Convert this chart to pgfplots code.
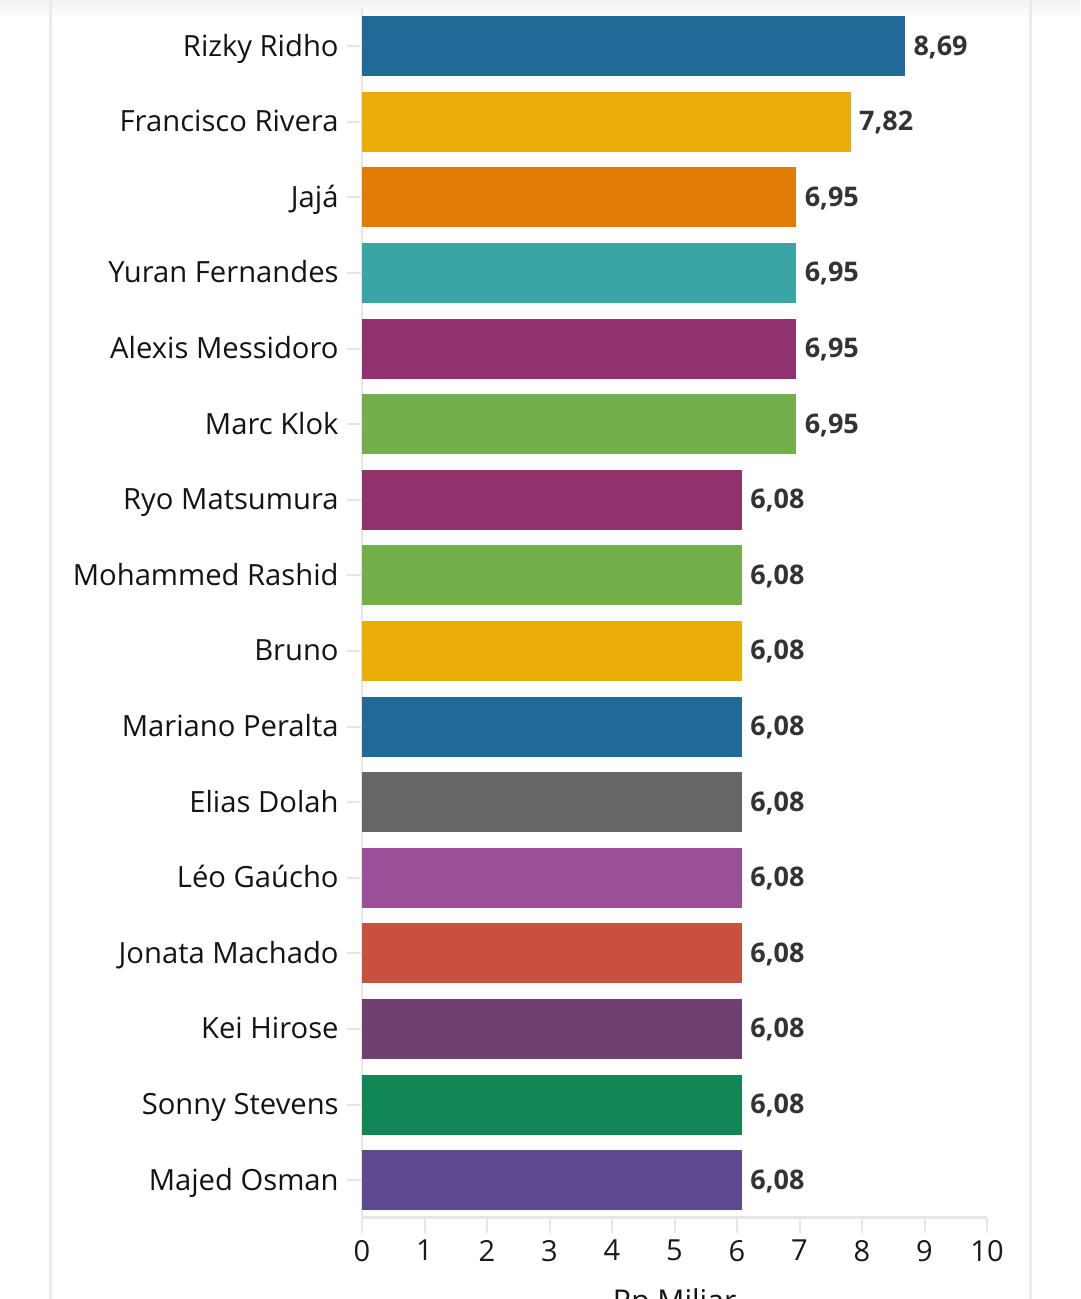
\documentclass[border=0pt]{standalone}
\usepackage{pgfplots}
\pgfplotsset{compat=1.18}
\usepackage{fontspec}
\setmainfont{Open Sans}
\definecolor{cBlue}{HTML}{1F6A96}
\definecolor{cGold}{HTML}{EBAE08}
\definecolor{cOrange}{HTML}{E07B05}
\definecolor{cTeal}{HTML}{39A6A5}
\definecolor{cMagenta}{HTML}{91316D}
\definecolor{cGreen}{HTML}{73AF4A}
\definecolor{cGrey}{HTML}{666666}
\definecolor{cLilac}{HTML}{9A4F96}
\definecolor{cRed}{HTML}{C94F3E}
\definecolor{cPlum}{HTML}{6E3F6F}
\definecolor{cEmerald}{HTML}{108654}
\definecolor{cIndigo}{HTML}{5E4A8F}
\definecolor{axisgrey}{HTML}{E6E6E6}
\definecolor{framegrey}{HTML}{EBEBEB}
\definecolor{valgrey}{HTML}{333333}
\begin{document}
\begin{tikzpicture}
\path[use as bounding box] (0pt,0pt) rectangle (540pt,649.5pt);
\clip (0pt,0pt) rectangle (540pt,649.5pt);
\fill[white] (0pt,0pt) rectangle (540pt,649.5pt);
\shade[top color=black!5, bottom color=white] (0pt,640pt) rectangle (540pt,649.5pt);
\draw[line width=1.5pt, framegrey] (25pt,0pt) -- (25pt,649.5pt);
\draw[line width=1.5pt, framegrey] (515pt,0pt) -- (515pt,649.5pt);
\begin{axis}[
  at={(181pt,40.5pt)}, anchor=south west,
  scale only axis, width=312.5pt, height=604.8pt,
  xmin=0, xmax=10, ymin=-0.5, ymax=15.5,
  xbar, bar width=0.794, bar shift=0pt,
  axis lines*=left,
  x axis line style={draw=axisgrey, line width=1.5pt},
  y axis line style={draw=axisgrey, line width=1pt},
  tick align=outside, major tick length=7.5pt,
  tick style={draw=axisgrey, line width=1pt},
  xtick={0,1,...,10},
  ytick={0,1,...,15},
  yticklabels={Majed Osman,Sonny Stevens,Kei Hirose,Jonata Machado,Léo Gaúcho,Elias Dolah,Mariano Peralta,Bruno,Mohammed Rashid,Ryo Matsumura,Marc Klok,Alexis Messidoro,Yuran Fernandes,Jajá,Francisco Rivera,Rizky Ridho},
  /pgf/number format/assume math mode=true,
  xticklabel style={font=\fontsize{14.5}{16}\selectfont, text=black!90},
  yticklabel style={font=\fontsize{14.6}{18}\selectfont, text=black!92, inner sep=4pt, anchor=base east, yshift=-5pt},
  point meta=x,
  nodes near coords={\pgfmathprintnumber[fixed,fixed zerofill,precision=2,use comma]{\pgfplotspointmeta}},
  nodes near coords style={anchor=base west, inner sep=0pt, xshift=4pt, yshift=-4.5pt, font=\fontsize{13.5}{16}\selectfont\bfseries, text=valgrey},
  every axis plot/.append style={draw=none},
  clip=false,
]
\addplot[fill=cBlue] coordinates {(8.69,15)};
\addplot[fill=cGold] coordinates {(7.82,14)};
\addplot[fill=cOrange] coordinates {(6.95,13)};
\addplot[fill=cTeal] coordinates {(6.95,12)};
\addplot[fill=cMagenta] coordinates {(6.95,11)};
\addplot[fill=cGreen] coordinates {(6.95,10)};
\addplot[fill=cMagenta] coordinates {(6.08,9)};
\addplot[fill=cGreen] coordinates {(6.08,8)};
\addplot[fill=cGold] coordinates {(6.08,7)};
\addplot[fill=cBlue] coordinates {(6.08,6)};
\addplot[fill=cGrey] coordinates {(6.08,5)};
\addplot[fill=cLilac] coordinates {(6.08,4)};
\addplot[fill=cRed] coordinates {(6.08,3)};
\addplot[fill=cPlum] coordinates {(6.08,2)};
\addplot[fill=cEmerald] coordinates {(6.08,1)};
\addplot[fill=cIndigo] coordinates {(6.08,0)};
\end{axis}
\node[anchor=north, inner sep=0pt, font=\fontsize{15}{18}\selectfont, text=black!92] at (337.25pt,5.5pt) {Rp Miliar};
\end{tikzpicture}
\end{document}
